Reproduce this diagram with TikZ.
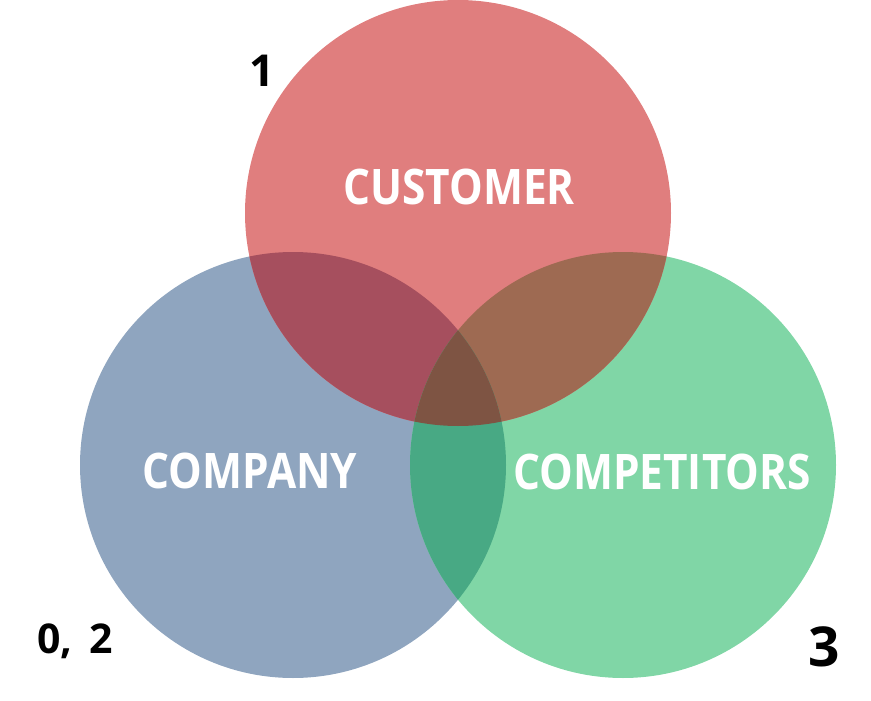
\documentclass[tikz,border=0pt]{standalone}
\usepackage{fontspec}
\usepackage{graphicx}
\setmainfont{Open Sans}
\definecolor{cred}{HTML}{E07E7E}
\definecolor{cblue}{HTML}{8FA5BF}
\definecolor{cgreen}{HTML}{80D6A6}
\definecolor{crb}{HTML}{A64F5E}
\definecolor{crg}{HTML}{9E6A52}
\definecolor{cbg}{HTML}{48A984}
\definecolor{crbg}{HTML}{7E5443}
\newcommand{\lbltext}[1]{\scalebox{0.865}[1]{\fontsize{49}{49}\selectfont\bfseries #1}}
\begin{document}
\begin{tikzpicture}[x=1pt,y=-1pt,
  lbl/.style={text=white,inner sep=0pt},
  num/.style={text=black,inner sep=0pt}]
\useasboundingbox (0,0) rectangle (871,701);
\def\R{213}
\coordinate (cr) at (458,213);
\coordinate (cb) at (293,465);
\coordinate (cg) at (623,465);
\fill[cblue] (cb) circle (\R);
\fill[cgreen] (cg) circle (\R);
\fill[cred] (cr) circle (\R);
\begin{scope}
  \clip (cr) circle (\R);
  \fill[crb] (cb) circle (\R);
  \fill[crg] (cg) circle (\R);
\end{scope}
\begin{scope}
  \clip (cb) circle (\R);
  \fill[cbg] (cg) circle (\R);
\end{scope}
\begin{scope}
  \clip (cb) circle (\R);
  \clip (cg) circle (\R);
  \fill[crbg] (cr) circle (\R);
\end{scope}
\node[lbl] (customer) at (459,187) {\lbltext{CUSTOMER}};
\node[lbl] (company) at (250,471) {\lbltext{COMPANY}};
\node[lbl] (competitors) at (662,472) {\lbltext{COMPETITORS}};
\node[num,font=\fontsize{44}{44}\selectfont\bfseries] (n1) at (262,71) {1};
\node[num,font=\fontsize{41}{41}\selectfont\bfseries] (n02) at (75,641) {0,\hspace{0.42em}2};
\node[num,font=\fontsize{55}{55}\selectfont\bfseries] (n3) at (824,647) {3};
\end{tikzpicture}
\end{document}
